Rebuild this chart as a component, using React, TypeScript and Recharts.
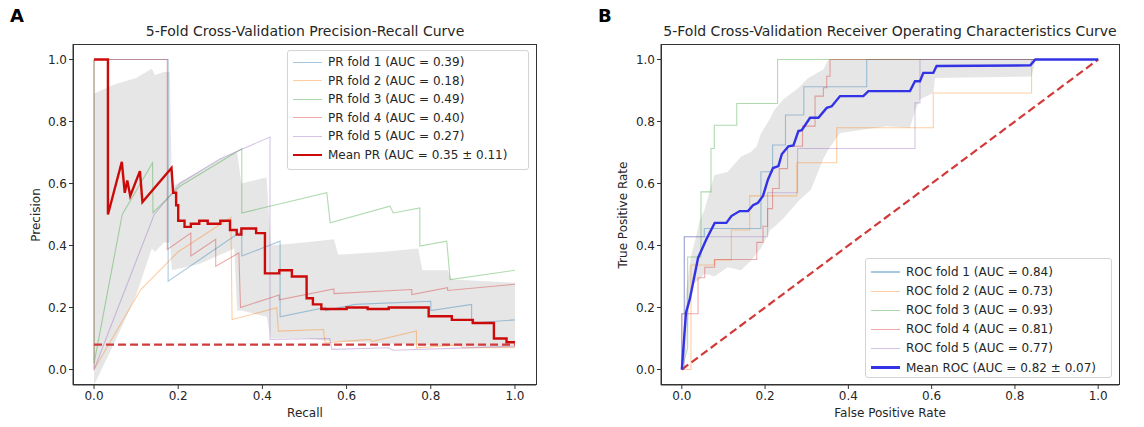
import { ComposedChart, Line, Area, XAxis, YAxis } from "recharts";

// ---- data (x = recall / FPR, y = precision / TPR) ----
const TICKS = [0, 0.2, 0.4, 0.6, 0.8, 1.0];

const prFold1 = [[0, 1], [0.176, 1], [0.176, 0.285], [0.351, 0.447], [0.351, 0.366], [0.442, 0.414], [0.442, 0.17], [0.55, 0.2], [0.55, 0.19], [0.62, 0.21], [0.8, 0.22], [0.8, 0.19], [0.897, 0.21], [0.897, 0.15], [1.0, 0.16]];
const prFold2 = [[0, 1], [0, 0], [0.111, 0.258], [0.2, 0.38], [0.325, 0.49], [0.328, 0.161], [0.434, 0.199], [0.438, 0.124], [0.545, 0.129], [0.549, 0.086], [0.656, 0.097], [0.66, 0.09], [0.766, 0.124], [0.766, 0.07], [0.873, 0.08], [0.875, 0.07], [1.0, 0.07]];
const prFold3 = [[0, 1], [0, 0.02], [0.067, 0.5], [0.139, 0.667], [0.14, 0.506], [0.204, 0.591], [0.351, 0.712], [0.351, 0.505], [0.553, 0.57], [0.561, 0.473], [0.703, 0.527], [0.711, 0.505], [0.774, 0.521], [0.774, 0.398], [0.838, 0.414], [0.846, 0.29], [1.0, 0.32]];
const prFold4 = [[0, 1], [0.174, 1], [0.174, 0.387], [0.23, 0.44], [0.23, 0.366], [0.289, 0.42], [0.289, 0.333], [0.344, 0.376], [0.348, 0.2], [0.44, 0.24], [0.44, 0.225], [0.57, 0.26], [0.57, 0.245], [0.755, 0.258], [0.755, 0.242], [0.84, 0.264], [0.84, 0.255], [1.0, 0.275]];
const prFold5 = [[0, 1], [0, 0], [0.143, 0.5], [0.204, 0.6], [0.3, 0.68], [0.418, 0.75], [0.418, 0.097], [0.56, 0.1], [0.565, 0.065], [0.7, 0.07], [0.71, 0.062], [0.85, 0.068], [1.0, 0.075]];
const prMean = [[0, 1], [0.033, 1], [0.033, 0.5], [0.066, 0.67], [0.073, 0.57], [0.079, 0.61], [0.086, 0.56], [0.109, 0.64], [0.115, 0.54], [0.184, 0.65], [0.188, 0.57], [0.195, 0.57], [0.195, 0.53], [0.2, 0.53], [0.2, 0.48], [0.215, 0.48], [0.215, 0.46], [0.23, 0.46], [0.23, 0.47], [0.25, 0.47], [0.25, 0.48], [0.27, 0.48], [0.27, 0.47], [0.3, 0.47], [0.3, 0.48], [0.323, 0.48], [0.323, 0.45], [0.339, 0.45], [0.339, 0.435], [0.35, 0.435], [0.35, 0.455], [0.385, 0.455], [0.385, 0.44], [0.406, 0.44], [0.406, 0.31], [0.44, 0.31], [0.44, 0.32], [0.47, 0.32], [0.47, 0.3], [0.505, 0.3], [0.505, 0.23], [0.52, 0.23], [0.52, 0.21], [0.54, 0.21], [0.54, 0.195], [0.6, 0.195], [0.6, 0.2], [0.65, 0.2], [0.65, 0.195], [0.7, 0.195], [0.7, 0.2], [0.795, 0.2], [0.795, 0.172], [0.85, 0.172], [0.85, 0.16], [0.9, 0.16], [0.9, 0.15], [0.95, 0.15], [0.95, 0.1], [0.98, 0.1], [0.98, 0.088], [1.0, 0.088]];
// [x, lower, upper]
const prBand = [[0, -0.05, 0.89], [0.05, 0.09, 0.92], [0.1, 0.24, 0.94], [0.137, 0.39, 0.97], [0.145, 0.38, 0.95], [0.166, 0.41, 0.96], [0.18, 0.41, 0.96], [0.185, 0.32, 0.59], [0.25, 0.34, 0.64], [0.3, 0.37, 0.68], [0.333, 0.39, 0.7], [0.34, 0.19, 0.7], [0.35, 0.19, 0.6], [0.41, 0.17, 0.62], [0.42, 0.1, 0.4], [0.5, 0.1, 0.41], [0.57, 0.09, 0.42], [0.58, 0.09, 0.37], [0.69, 0.085, 0.38], [0.77, 0.08, 0.39], [0.78, 0.08, 0.32], [0.84, 0.075, 0.32], [0.85, 0.075, 0.29], [1.0, 0.07, 0.28]];
const prBaseline = [[0, 0.08], [1, 0.08]];

const rocFold1 = [[0, 0], [0, 0.18], [0.006, 0.18], [0.006, 0.428], [0.054, 0.428], [0.054, 0.455], [0.19, 0.455], [0.19, 0.638], [0.218, 0.638], [0.218, 0.724], [0.249, 0.724], [0.249, 0.821], [0.293, 0.821], [0.293, 0.912], [0.444, 0.912], [0.444, 1.0], [1, 1]];
const rocFold2 = [[0, 0], [0.022, 0], [0.022, 0.337], [0.078, 0.337], [0.078, 0.353], [0.119, 0.353], [0.119, 0.45], [0.163, 0.45], [0.163, 0.56], [0.276, 0.56], [0.276, 0.667], [0.372, 0.667], [0.372, 0.78], [0.604, 0.78], [0.604, 0.892], [0.84, 0.892], [0.84, 1.0], [1, 1]];
const rocFold3 = [[0, 0], [0.014, 0.07], [0.014, 0.363], [0.046, 0.363], [0.046, 0.573], [0.07, 0.573], [0.07, 0.713], [0.078, 0.713], [0.078, 0.788], [0.132, 0.788], [0.132, 0.858], [0.23, 0.858], [0.23, 1.0], [1, 1]];
const rocFold4 = [[0, 0], [0, 0.18], [0.039, 0.18], [0.039, 0.296], [0.055, 0.296], [0.055, 0.33], [0.079, 0.33], [0.079, 0.355], [0.18, 0.355], [0.18, 0.41], [0.195, 0.41], [0.195, 0.462], [0.206, 0.462], [0.206, 0.519], [0.218, 0.519], [0.218, 0.584], [0.234, 0.584], [0.234, 0.648], [0.254, 0.648], [0.254, 0.72], [0.29, 0.72], [0.29, 0.785], [0.32, 0.785], [0.32, 0.882], [0.34, 0.882], [0.34, 0.909], [0.348, 0.909], [0.348, 0.946], [0.356, 0.946], [0.356, 1.0], [1, 1]];
const rocFold5 = [[0, 0], [0.006, 0], [0.006, 0.428], [0.206, 0.428], [0.206, 0.57], [0.278, 0.57], [0.278, 0.713], [0.56, 0.713], [0.56, 0.86], [0.572, 0.86], [0.572, 1.0], [1, 1]];
const rocMean = [[0, 0], [0.01, 0.183], [0.019, 0.226], [0.039, 0.36], [0.059, 0.42], [0.079, 0.473], [0.107, 0.473], [0.119, 0.495], [0.139, 0.511], [0.159, 0.511], [0.171, 0.53], [0.183, 0.538], [0.195, 0.56], [0.207, 0.613], [0.219, 0.65], [0.232, 0.656], [0.24, 0.694], [0.256, 0.72], [0.268, 0.723], [0.28, 0.769], [0.288, 0.772], [0.308, 0.812], [0.328, 0.812], [0.348, 0.844], [0.36, 0.849], [0.38, 0.882], [0.436, 0.882], [0.448, 0.898], [0.548, 0.898], [0.56, 0.93], [0.572, 0.93], [0.58, 0.957], [0.604, 0.957], [0.612, 0.979], [0.837, 0.981], [0.849, 1.0], [1.0, 1.0]];
const rocBand = [[0, 0, 0.01], [0.01, 0.06, 0.25], [0.022, 0.28, 0.365], [0.03, 0.28, 0.406], [0.043, 0.29, 0.48], [0.054, 0.31, 0.514], [0.078, 0.3, 0.627], [0.11, 0.33, 0.637], [0.142, 0.32, 0.686], [0.166, 0.35, 0.702], [0.18, 0.376, 0.72], [0.19, 0.39, 0.761], [0.212, 0.45, 0.81], [0.222, 0.46, 0.837], [0.246, 0.49, 0.874], [0.278, 0.54, 0.906], [0.302, 0.57, 0.939], [0.31, 0.58, 0.945], [0.34, 0.68, 0.968], [0.352, 0.71, 1.0], [0.38, 0.763, 1.0], [0.492, 0.785, 1.0], [0.548, 0.78, 1.0], [0.56, 0.833, 1.0], [0.572, 0.871, 1.0], [0.604, 0.892, 1.0], [0.608, 0.94, 1.0], [0.84, 0.945, 1.0], [0.85, 1.0, 1.0], [1.0, 1.0, 1.0]];
const rocChance = [[0, 0], [1, 1]];

const FOLD_COLORS = ["#1f77b4", "#ff7f0e", "#2ca02c", "#d62728", "#9467bd"];
const prLabels = ["PR fold 1 (AUC = 0.39)", "PR fold 2 (AUC = 0.18)", "PR fold 3 (AUC = 0.49)", "PR fold 4 (AUC = 0.40)", "PR fold 5 (AUC = 0.27)", "Mean PR (AUC = 0.35 ± 0.11)"];
const rocLabels = ["ROC fold 1 (AUC = 0.84)", "ROC fold 2 (AUC = 0.73)", "ROC fold 3 (AUC = 0.93)", "ROC fold 4 (AUC = 0.81)", "ROC fold 5 (AUC = 0.77)", "Mean ROC (AUC = 0.82 ± 0.07)"];

const MEAN_PR = "#cc0a0a";
const MEAN_ROC = "#3333e6";
const DASH_RED = "#d23a3a";
const FONT = "'DejaVu Sans', sans-serif";

const pts = (a: number[][]) => a.map(([x, y]) => ({ x, y }));
const band = (a: number[][]) => a.map(([x, lo, hi]) => ({ x, r: [lo, hi] }));

const tick = { fontFamily: FONT, fontSize: 12, fill: "#262626" };
const fmt = (v: number) => v.toFixed(1);

function Panel({ folds, mean, meanColor, bandData, refLine, width, margin }: any) {
  return (
    <ComposedChart width={width} height={427} margin={margin}>
      <XAxis type="number" dataKey="x" domain={[-0.05, 1.05]} allowDataOverflow ticks={TICKS} tickFormatter={fmt}
        tick={tick} tickSize={4} height={30} stroke="#333" />
      <YAxis type="number" dataKey="y" domain={[-0.05, 1.05]} allowDataOverflow ticks={TICKS} tickFormatter={fmt}
        tick={tick} tickSize={4} width={50} stroke="#333" />
      {folds.map((f: number[][], i: number) => (
        <Line key={i} data={pts(f)} dataKey="y" type="linear" stroke={FOLD_COLORS[i]} strokeOpacity={0.38}
          strokeWidth={1.1} dot={false} activeDot={false} isAnimationActive={false} />
      ))}
      <Area data={band(bandData)} dataKey="r" type="linear" fill="#808080" fillOpacity={0.2} stroke="none"
        dot={false} activeDot={false} isAnimationActive={false} />
      <Line data={pts(refLine)} dataKey="y" type="linear" stroke={DASH_RED} strokeWidth={2.2} strokeDasharray="8 4"
        dot={false} activeDot={false} isAnimationActive={false} />
      <Line data={pts(mean)} dataKey="y" type="linear" stroke={meanColor} strokeWidth={2.4}
        dot={false} activeDot={false} isAnimationActive={false} />
    </ComposedChart>
  );
}

function LegendBox({ labels, meanColor, left, top, width, height, rowTop, rowH }: any) {
  return (
    <div style={{ position: "absolute", left, top, width, height, border: "1px solid #d4d4d4", borderRadius: 3,
      background: "rgba(255,255,255,0.85)", boxSizing: "border-box", fontFamily: FONT, fontSize: 12, color: "#262626" }}>
      {labels.map((l: string, i: number) => {
        const isMean = i === labels.length - 1;
        return (
          <div key={l} style={{ position: "absolute", left: 5, top: rowTop + i * rowH, height: rowH, display: "flex", alignItems: "center", whiteSpace: "nowrap" }}>
            <div style={{ width: 29, height: isMean ? 2.5 : 1.2, marginRight: 6,
              background: isMean ? meanColor : FOLD_COLORS[i], opacity: isMean ? 1 : 0.4 }} />
            <span>{l}</span>
          </div>
        );
      })}
    </div>
  );
}

// axes frame (matplotlib draws all four spines)
const frame = (left: number, width: number) => (
  <div style={{ position: "absolute", left, top: 44, width, height: 341, border: "1px solid #333", boxSizing: "border-box", pointerEvents: "none" }} />
);

const txt = (s: any) => ({ position: "absolute", fontFamily: FONT, color: "#262626", whiteSpace: "nowrap", ...s });

export default function App() {
  return (
    <div style={{ position: "absolute", left: 0, top: 0, width: 1144, height: 427, background: "#fff", overflow: "hidden" }}>
      <div style={{ position: "absolute", left: 0, top: 0 }}>
        <Panel folds={[prFold1, prFold2, prFold3, prFold4, prFold5]} mean={prMean} meanColor={MEAN_PR}
          bandData={prBand} refLine={prBaseline} width={560} margin={{ top: 44, right: 24, bottom: 12, left: 23 }} />
      </div>
      <div style={{ position: "absolute", left: 590, top: 0 }}>
        <Panel folds={[rocFold1, rocFold2, rocFold3, rocFold4, rocFold5]} mean={rocMean} meanColor={MEAN_ROC}
          bandData={rocBand} refLine={rocChance} width={554} margin={{ top: 44, right: 25, bottom: 12, left: 21 }} />
      </div>
      {frame(72.5, 464)}
      {frame(660.5, 459)}

      <LegendBox labels={prLabels} meanColor={MEAN_PR} left={287} top={50} width={242} height={120} rowTop={2} rowH={18.5} />
      <LegendBox labels={rocLabels} meanColor={MEAN_ROC} left={865} top={258} width={247} height={120} rowTop={3.5} rowH={19.1} />

      <div style={txt({ left: 10, top: 5, fontSize: 18, fontWeight: "bold", color: "#000" })}>A</div>
      <div style={txt({ left: 598, top: 5, fontSize: 18, fontWeight: "bold", color: "#000" })}>B</div>

      <div style={txt({ left: 305, top: 31, fontSize: 14, transform: "translate(-50%,-50%)" })}>5-Fold Cross-Validation Precision-Recall Curve</div>
      <div style={txt({ left: 890, top: 31, fontSize: 14, transform: "translate(-50%,-50%)" })}>5-Fold Cross-Validation Receiver Operating Characteristics Curve</div>

      <div style={txt({ left: 305, top: 413, fontSize: 12, transform: "translate(-50%,-50%)" })}>Recall</div>
      <div style={txt({ left: 890, top: 413, fontSize: 12, transform: "translate(-50%,-50%)" })}>False Positive Rate</div>
      <div style={txt({ left: 36, top: 215, fontSize: 12, transform: "translate(-50%,-50%) rotate(-90deg)" })}>Precision</div>
      <div style={txt({ left: 623, top: 215, fontSize: 12, transform: "translate(-50%,-50%) rotate(-90deg)" })}>True Positive Rate</div>
    </div>
  );
}
